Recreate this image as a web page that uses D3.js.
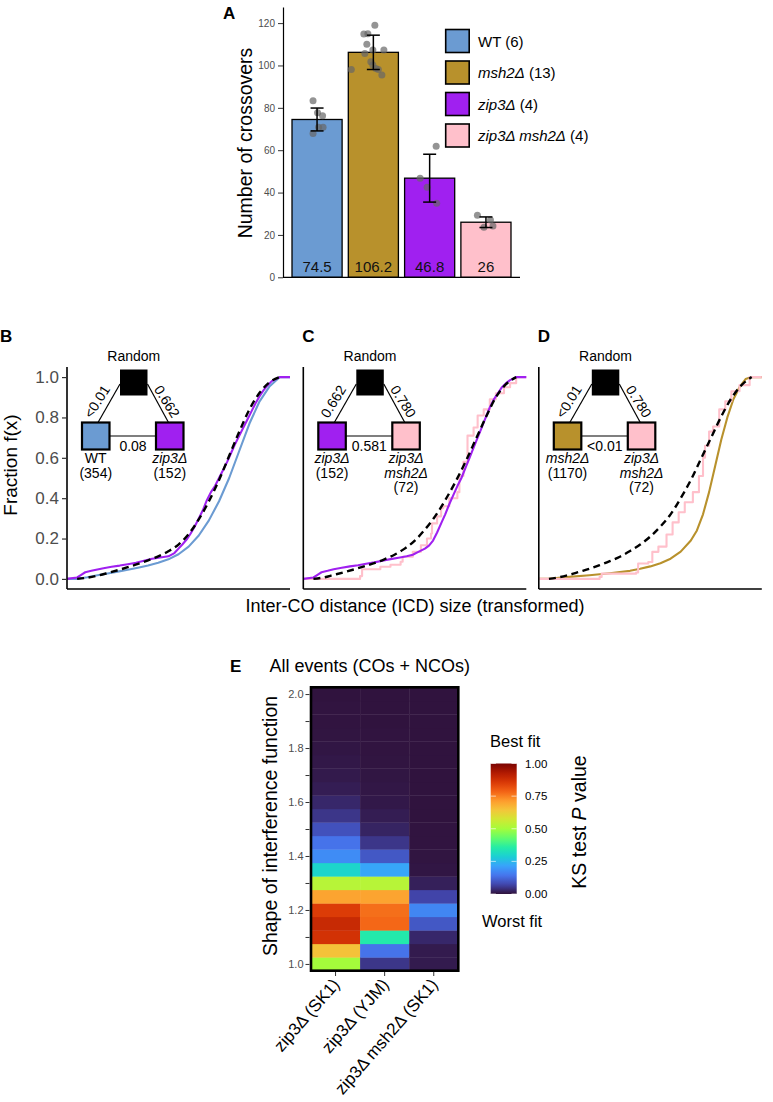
<!DOCTYPE html>
<html>
<head>
<meta charset="utf-8">
<script src="https://cdn.jsdelivr.net/npm/d3@7"></script>
<style>
  body { margin: 0; background: #fff; }
  svg { display: block; font-family: "Liberation Sans", Arial, Helvetica, sans-serif; }
</style>
</head>
<body>
<svg id="fig" width="773" height="1102"></svg>
<script>
// ---------- panel A data ----------
var strains = ["WT", "msh2", "zip3", "zip3msh2"];
var strainLabels = [[["WT", false]], [["msh2Δ", true]], [["zip3Δ", true]], [["zip3Δ msh2Δ", true]]];
var nMeioses = [6, 13, 4, 4];
var meanCO = [74.5, 106.2, 46.8, 26];
var sdCO = [5.4, 8.1, 11.3, 2.5];
var coWT = [83.4, 77.7, 76.3, 70.8, 70.8, 67.9];
var coMsh2 = [119, 115, 114.8, 110, 107.3, 107.3, 105.7, 101.7, 100.2, 98.6, 98.1, 98.1, 95.5];
var coZip3 = [61.9, 46.7, 42.5, 34.9];
var coDouble = [29.3, 27, 23.6, 24.2];
var yTicksA = [0, 20, 40, 60, 80, 100, 120];

// ---------- panels B-D data (ECDF of transformed ICD, x in 0..1) ----------
var cdfB_random = [[0,0],[0.05,0.006],[0.1,0.016],[0.15,0.029],[0.2,0.043],[0.25,0.058],[0.3,0.074],[0.35,0.092],[0.4,0.112],[0.45,0.137],[0.5,0.17],[0.55,0.222],[0.6,0.295],[0.65,0.385],[0.7,0.49],[0.75,0.61],[0.8,0.73],[0.85,0.84],[0.9,0.922],[0.95,0.975],[1,1]];
var cdfB_wt = [[0,0],[0.05,0.008],[0.1,0.018],[0.15,0.027],[0.2,0.036],[0.25,0.045],[0.3,0.055],[0.35,0.066],[0.4,0.08],[0.45,0.097],[0.5,0.122],[0.55,0.16],[0.6,0.215],[0.65,0.29],[0.7,0.385],[0.75,0.5],[0.8,0.635],[0.85,0.77],[0.9,0.88],[0.95,0.955],[1,1]];
var cdfB_zip3 = [[0,0.007],[0.02,0.02],[0.04,0.033],[0.07,0.04],[0.1,0.047],[0.13,0.053],[0.17,0.06],[0.21,0.066],[0.25,0.073],[0.29,0.08],[0.33,0.09],[0.37,0.1],[0.41,0.106],[0.45,0.112],[0.48,0.128],[0.5,0.15],[0.52,0.172],[0.54,0.195],[0.56,0.225],[0.58,0.26],[0.6,0.3],[0.62,0.34],[0.64,0.39],[0.66,0.43],[0.68,0.46],[0.7,0.5],[0.72,0.54],[0.74,0.58],[0.76,0.625],[0.78,0.67],[0.8,0.71],[0.82,0.75],[0.84,0.79],[0.86,0.83],[0.88,0.87],[0.9,0.905],[0.92,0.935],[0.94,0.96],[0.96,0.98],[0.98,0.99],[1,1]];

var cdfC_random = [[0,0],[0.05,0.007],[0.1,0.02],[0.15,0.033],[0.2,0.047],[0.25,0.062],[0.3,0.078],[0.35,0.097],[0.4,0.12],[0.45,0.15],[0.5,0.19],[0.55,0.245],[0.6,0.31],[0.65,0.39],[0.7,0.48],[0.75,0.58],[0.8,0.69],[0.85,0.8],[0.9,0.9],[0.95,0.965],[1,1]];
var cdfC_zip3 = [[0,0.007],[0.02,0.02],[0.04,0.033],[0.07,0.04],[0.1,0.048],[0.14,0.055],[0.18,0.062],[0.22,0.068],[0.26,0.075],[0.3,0.082],[0.34,0.09],[0.38,0.098],[0.42,0.105],[0.46,0.112],[0.49,0.12],[0.52,0.135],[0.55,0.15],[0.57,0.165],[0.59,0.19],[0.61,0.23],[0.63,0.275],[0.65,0.32],[0.67,0.37],[0.69,0.415],[0.71,0.46],[0.73,0.5],[0.75,0.55],[0.77,0.6],[0.79,0.65],[0.81,0.7],[0.83,0.75],[0.85,0.8],[0.87,0.85],[0.89,0.89],[0.91,0.92],[0.93,0.95],[0.95,0.97],[0.97,0.985],[1,1]];
var cdfC_double = [[0.23,0.014],[0.24,0.048],[0.33,0.06],[0.38,0.07],[0.43,0.085],[0.44,0.11],[0.49,0.134],[0.53,0.167],[0.56,0.2],[0.58,0.225],[0.585,0.275],[0.61,0.31],[0.63,0.35],[0.64,0.36],[0.67,0.4],[0.71,0.43],[0.72,0.51],[0.74,0.58],[0.76,0.71],[0.79,0.75],[0.81,0.81],[0.84,0.84],[0.87,0.89],[0.9,0.92],[0.94,0.95],[0.97,0.97],[1,1]];

var cdfD_random = [[0,0],[0.05,0.008],[0.1,0.02],[0.15,0.035],[0.2,0.05],[0.25,0.068],[0.3,0.088],[0.35,0.11],[0.4,0.138],[0.45,0.17],[0.5,0.21],[0.55,0.26],[0.6,0.32],[0.65,0.4],[0.7,0.49],[0.75,0.595],[0.8,0.7],[0.85,0.805],[0.9,0.895],[0.95,0.96],[1,1]];
var cdfD_msh2 = [[0,0],[0.1,0.01],[0.2,0.018],[0.3,0.028],[0.4,0.04],[0.45,0.05],[0.5,0.062],[0.55,0.078],[0.6,0.1],[0.65,0.135],[0.7,0.19],[0.73,0.24],[0.76,0.32],[0.79,0.43],[0.82,0.56],[0.85,0.69],[0.88,0.8],[0.91,0.89],[0.94,0.95],[0.97,0.99],[1,1]];
var cdfD_double = [[0.25,0.01],[0.26,0.026],[0.43,0.032],[0.44,0.076],[0.49,0.084],[0.51,0.134],[0.54,0.16],[0.58,0.22],[0.61,0.28],[0.64,0.33],[0.67,0.38],[0.71,0.43],[0.74,0.51],[0.76,0.6],[0.77,0.66],[0.79,0.73],[0.81,0.755],[0.84,0.84],[0.87,0.88],[0.9,0.93],[0.94,0.96],[0.99,1]];

var yTicksCdf = [0, 0.2, 0.4, 0.6, 0.8, 1.0];

// ---------- panel E data ----------
var genotypesE = ["zip3Δ (SK1)", "zip3Δ (YJM)", "zip3Δ msh2Δ (SK1)"];
var shapeValues = [1.00,1.05,1.10,1.15,1.20,1.25,1.30,1.35,1.40,1.45,1.50,1.55,1.60,1.65,1.70,1.75,1.80,1.85,1.90,1.95,2.00];
var ksZip3SK1 = [0.50,0.65,0.87,0.89,0.85,0.70,0.53,0.30,0.18,0.14,0.09,0.05,0.03,0.016,0.011,0.008,0.006,0.004,0.003,0.003,0.002];
var ksZip3YJM = [0.05,0.14,0.35,0.78,0.77,0.70,0.53,0.22,0.10,0.05,0.025,0.015,0.009,0.007,0.005,0.004,0.003,0.003,0.002,0.002,0.002];
var ksDoubleSK1 = [0.012,0.012,0.03,0.10,0.17,0.07,0.02,0.006,0.004,0.003,0.003,0.002,0.002,0.002,0.002,0.002,0.002,0.002,0.002,0.002,0.002];
var colorbarTicks = [0, 0.25, 0.5, 0.75, 1];

// ---------- styles ----------
var strainColors = ["#6b9bd2", "#b8912c", "#a020f0", "#ffc0cb"];
var tickGrey = "#4d4d4d";
var turboStops = ["#30123b","#4145ab","#4675ed","#39a2fc","#1bcfd4","#24eca6","#61fc6c","#a4fc3b","#d1e834","#f3c63a","#fe9b2d","#f36315","#d93806","#b11901","#7a0402"];

var svg = d3.select("#fig");
svg.append("rect").attr("width", 773).attr("height", 1102).attr("fill", "#fff");

function panelLetter(t, x, y) {
    svg.append("text").attr("x", x).attr("y", y)
        .attr("font-weight", "bold").attr("font-size", 17).text(t);
}

function richText(sel, parts) {
    parts.forEach(function (p) {
        sel.append("tspan").attr("font-style", p[1] ? "italic" : "normal").text(p[0]);
    });
    return sel;
}

// ===================== Panel A =====================
panelLetter("A", 223, 19);

var xA = d3.scaleBand().domain(strains).range([283, 520]).paddingInner(0.11).paddingOuter(0.16);
var yA = d3.scaleLinear().domain([0, 127.6]).range([277.3, 7]);
var gA = svg.append("g");

gA.selectAll("rect.bar").data(strains).enter().append("rect")
    .attr("class", "bar")
    .attr("x", function (d) { return xA(d); })
    .attr("width", xA.bandwidth())
    .attr("y", function (d, i) { return yA(meanCO[i]); })
    .attr("height", function (d, i) { return yA(0) - yA(meanCO[i]); })
    .attr("fill", function (d, i) { return strainColors[i]; })
    .attr("stroke", "#000").attr("stroke-width", 1.3);

// bar value labels
gA.selectAll("text.val").data(strains).enter().append("text")
    .attr("x", function (d) { return xA(d) + xA.bandwidth() / 2; })
    .attr("y", 272)
    .attr("text-anchor", "middle").attr("font-size", 15).attr("fill", "#111")
    .text(function (d, i) { return meanCO[i]; });

// jittered points
var dotSets = [coWT, coMsh2, coZip3, coDouble];
var dotJitter = [
    [-0.08, 0.01, 0.11, 0.03, 0.12, -0.08],
    [0.03, -0.11, -0.19, -0.13, -0.01, 0.21, -0.17, -0.05, -0.01, 0.05, -0.44, 0.1, 0.17],
    [0.13, -0.19, -0.05, 0.14],
    [-0.17, 0.09, -0.04, 0.14]
];
dotSets.forEach(function (vals, k) {
    var cx = xA(strains[k]) + xA.bandwidth() / 2;
    gA.selectAll(null).data(vals).enter().append("circle")
        .attr("cx", function (d, j) { return cx + dotJitter[k][j] * xA.bandwidth(); })
        .attr("cy", function (d) { return yA(d); })
        .attr("r", 3.5)
        .attr("fill", "#666").attr("fill-opacity", 0.7);
});

// error bars
strains.forEach(function (s, i) {
    var cx = xA(s) + xA.bandwidth() / 2;
    var lo = yA(meanCO[i] - sdCO[i]), hi = yA(meanCO[i] + sdCO[i]);
    gA.append("line").attr("x1", cx).attr("x2", cx).attr("y1", lo).attr("y2", hi)
        .attr("stroke", "#000").attr("stroke-width", 1.5);
    [lo, hi].forEach(function (y) {
        gA.append("line").attr("x1", cx - 6.5).attr("x2", cx + 6.5).attr("y1", y).attr("y2", y)
            .attr("stroke", "#000").attr("stroke-width", 1.5);
    });
});

// axes
var yAxisA = gA.append("g").attr("transform", "translate(283,0)")
    .call(d3.axisLeft(yA).tickValues(yTicksA).tickSize(5).tickSizeOuter(0).tickPadding(3));
yAxisA.select(".domain").attr("stroke", "#000").attr("stroke-width", 1.2);
yAxisA.selectAll(".tick line").attr("stroke", "#333");
yAxisA.selectAll(".tick text").attr("fill", tickGrey).attr("font-size", 10)
    .attr("font-family", "Liberation Sans, Arial, sans-serif");
gA.append("line").attr("x1", 283).attr("x2", 520).attr("y1", yA(0)).attr("y2", yA(0))
    .attr("stroke", "#000").attr("stroke-width", 1.2);

gA.append("text").attr("transform", "translate(252,143) rotate(-90)")
    .attr("text-anchor", "middle").attr("font-size", 19.5).text("Number of crossovers");

// legend
strains.forEach(function (s, i) {
    var top = 29.5 + i * 31.5;
    gA.append("rect").attr("x", 445.7).attr("y", top).attr("width", 23.5).attr("height", 23)
        .attr("fill", strainColors[i]).attr("stroke", "#000").attr("stroke-width", 1.6);
    var t = gA.append("text").attr("x", 478).attr("y", top + 17).attr("font-size", 15);
    richText(t, strainLabels[i].concat([[" (" + nMeioses[i] + ")", false]]));
});

// ===================== Panels B-D =====================
var yCdf = d3.scaleLinear().domain([-0.05, 1.05]).range([589, 367]);
var panels = [
    { letter: "B", x0: 67, random: cdfB_random,
      curves: [{ data: cdfB_wt, color: strainColors[0], step: false },
               { data: cdfB_zip3, color: strainColors[2], step: false }],
      left: { color: strainColors[0], lines: [[["WT", false]], [["(354)", false]]] },
      right: { color: strainColors[2], lines: [[["zip3Δ", true]], [["(152)", false]]] },
      p: ["<0.01", "0.662", "0.08"], yLabels: true },
    { letter: "C", x0: 303.3, random: cdfC_random,
      curves: [{ data: cdfC_double, color: strainColors[3], step: true },
               { data: cdfC_zip3, color: strainColors[2], step: false }],
      left: { color: strainColors[2], lines: [[["zip3Δ", true]], [["(152)", false]]] },
      right: { color: strainColors[3], lines: [[["zip3Δ", true]], [["msh2Δ", true]], [["(72)", false]]] },
      p: ["0.662", "0.780", "0.581"], yLabels: false },
    { letter: "D", x0: 538.8, random: cdfD_random,
      curves: [{ data: cdfD_msh2, color: strainColors[1], step: false },
               { data: cdfD_double, color: strainColors[3], step: true }],
      left: { color: strainColors[1], lines: [[["msh2Δ", true]], [["(1170)", false]]] },
      right: { color: strainColors[3], lines: [[["zip3Δ", true]], [["msh2Δ", true]], [["(72)", false]]] },
      p: ["<0.01", "0.780", "<0.01"], yLabels: false }
];

panels.forEach(function (P) {
    var g = svg.append("g");
    var x = d3.scaleLinear().domain([-0.05, 1.05]).range([P.x0, P.x0 + 223]);
    panelLetter(P.letter, P.letter === "B" ? 0 : P.x0 - 1, 342);

    function padded(data) {
        return [[-0.05, 0]].concat(data, [[1.05, 1]]);
    }
    P.curves.forEach(function (c) {
        var line = d3.line().x(function (d) { return x(d[0]); }).y(function (d) { return yCdf(d[1]); })
            .curve(c.step ? d3.curveStepAfter : d3.curveLinear);
        g.append("path").attr("d", line(padded(c.data)))
            .attr("fill", "none").attr("stroke", c.color).attr("stroke-width", 2.1)
            .attr("stroke-linejoin", "round");
    });
    var rline = d3.line().x(function (d) { return x(d[0]); }).y(function (d) { return yCdf(d[1]); })
        .curve(d3.curveMonotoneX);
    g.append("path").attr("d", rline(P.random))
        .attr("fill", "none").attr("stroke", "#000").attr("stroke-width", 2.4)
        .attr("stroke-dasharray", "7,4.5");

    // axes
    g.append("line").attr("x1", P.x0).attr("x2", P.x0).attr("y1", 367).attr("y2", 589)
        .attr("stroke", "#000").attr("stroke-width", 1.6);
    g.append("line").attr("x1", P.x0).attr("x2", P.x0 + 223).attr("y1", 589).attr("y2", 589)
        .attr("stroke", "#000").attr("stroke-width", 1.6);
    if (P.yLabels) {
        var ya = g.append("g").attr("transform", "translate(" + P.x0 + ",0)")
            .call(d3.axisLeft(yCdf).tickValues(yTicksCdf).tickFormat(d3.format(".1f"))
                .tickSize(5).tickSizeOuter(0).tickPadding(3));
        ya.select(".domain").remove();
        ya.selectAll(".tick line").attr("stroke", "#333").attr("stroke-width", 1.2);
        ya.selectAll(".tick text").attr("fill", tickGrey).attr("font-size", 17)
            .attr("font-family", "Liberation Sans, Arial, sans-serif");
    }

    // inset comparison triangle
    var sq = 27.5, bx = P.x0 + 53, lx = P.x0 + 15, rx = P.x0 + 89, sideTop = 422.5;
    g.append("text").attr("x", bx + sq / 2).attr("y", 360.5).attr("text-anchor", "middle")
        .attr("font-size", 14).text("Random");
    g.append("line").attr("x1", bx).attr("y1", 384).attr("x2", lx + 16).attr("y2", sideTop)
        .attr("stroke", "#000").attr("stroke-width", 1.2);
    g.append("line").attr("x1", bx + sq).attr("y1", 384).attr("x2", rx + 12.5).attr("y2", sideTop)
        .attr("stroke", "#000").attr("stroke-width", 1.2);
    g.append("line").attr("x1", lx + sq).attr("y1", 436).attr("x2", rx).attr("y2", 436)
        .attr("stroke", "#000").attr("stroke-width", 1.2);
    g.append("rect").attr("x", bx).attr("y", 369.5).attr("width", sq).attr("height", 26).attr("fill", "#000");
    [[lx, P.left], [rx, P.right]].forEach(function (s) {
        g.append("rect").attr("x", s[0]).attr("y", sideTop).attr("width", sq).attr("height", 27)
            .attr("fill", s[1].color).attr("stroke", "#000").attr("stroke-width", 2.2);
        s[1].lines.forEach(function (ln, k) {
            var t = g.append("text").attr("x", s[0] + sq / 2).attr("y", 463 + k * 14.5)
                .attr("text-anchor", "middle").attr("font-size", 14);
            richText(t, ln);
        });
    });
    g.append("text").attr("transform", "translate(" + (P.x0 + 30) + ",401.5) rotate(-58)")
        .attr("text-anchor", "middle").attr("dy", "0.35em").attr("font-size", 14).text(P.p[0]);
    g.append("text").attr("transform", "translate(" + (P.x0 + 100) + ",401.5) rotate(58)")
        .attr("text-anchor", "middle").attr("dy", "0.35em").attr("font-size", 14).text(P.p[1]);
    g.append("text").attr("x", P.x0 + 66).attr("y", 451).attr("text-anchor", "middle")
        .attr("font-size", 14).text(P.p[2]);
});

svg.append("text").attr("transform", "translate(17,465) rotate(-90)")
    .attr("text-anchor", "middle").attr("font-size", 19).text("Fraction f(x)");
svg.append("text").attr("x", 415).attr("y", 612).attr("text-anchor", "middle")
    .attr("font-size", 18).text("Inter-CO distance (ICD) size (transformed)");

// ===================== Panel E =====================
panelLetter("E", 230, 672);
svg.append("text").attr("x", 269.5).attr("y", 671.5).attr("font-size", 18).text("All events (COs + NCOs)");

var turbo = d3.piecewise(d3.interpolateRgb, turboStops);
var xE = d3.scaleBand().domain(genotypesE).range([311, 458.3]);
var yE = d3.scaleLinear().domain([0.975, 2.025]).range([970.7, 687.3]);
var gE = svg.append("g");
var ksColumns = [ksZip3SK1, ksZip3YJM, ksDoubleSK1];

ksColumns.forEach(function (col, c) {
    gE.selectAll(null).data(shapeValues).enter().append("rect")
        .attr("x", xE(genotypesE[c]))
        .attr("width", xE.bandwidth() + 0.4)
        .attr("y", function (d) { return yE(d + 0.025); })
        .attr("height", function (d) { return yE(d - 0.025) - yE(d + 0.025) + 0.4; })
        .attr("fill", function (d, i) { return turbo(col[i]); });
});
gE.append("rect").attr("x", 311).attr("y", 687.3).attr("width", 147.3).attr("height", 283.4)
    .attr("fill", "none").attr("stroke", "#000").attr("stroke-width", 2.6);

var yAxisE = gE.append("g").attr("transform", "translate(309.5,0)")
    .call(d3.axisLeft(yE).tickValues([1.0,1.1,1.2,1.3,1.4,1.5,1.6,1.7,1.8,1.9,2.0])
        .tickFormat(function (d) { return Math.round(d * 10) % 2 === 0 ? d3.format(".1f")(d) : ""; })
        .tickSize(4).tickSizeOuter(0).tickPadding(2));
yAxisE.select(".domain").remove();
yAxisE.selectAll(".tick line").attr("stroke", "#333");
yAxisE.selectAll(".tick text").attr("fill", tickGrey).attr("font-size", 11)
    .attr("font-family", "Liberation Sans, Arial, sans-serif");

var xAxisE = gE.append("g").attr("transform", "translate(0,972)")
    .call(d3.axisBottom(xE).tickSize(4).tickSizeOuter(0).tickFormat(""));
xAxisE.select(".domain").remove();
xAxisE.selectAll(".tick line").attr("stroke", "#333");
genotypesE.forEach(function (gname) {
    var cx = xE(gname) + xE.bandwidth() / 2;
    gE.append("text").attr("transform", "translate(" + (cx + 5) + ",985) rotate(-49)")
        .attr("text-anchor", "end").attr("font-size", 17).text(gname);
});

svg.append("text").attr("transform", "translate(277,826) rotate(-90)")
    .attr("text-anchor", "middle").attr("font-size", 19.5).text("Shape of interference function");

// colorbar
var defs = svg.append("defs");
var grad = defs.append("linearGradient").attr("id", "turboGrad")
    .attr("x1", 0).attr("y1", 1).attr("x2", 0).attr("y2", 0);
d3.range(0, 1.0001, 0.02).forEach(function (t) {
    grad.append("stop").attr("offset", t).attr("stop-color", turbo(t));
});
var yBar = d3.scaleLinear().domain([0, 1]).range([894, 763.5]);
svg.append("rect").attr("x", 490.7).attr("y", 763.5).attr("width", 26).attr("height", 130.5)
    .attr("fill", "url(#turboGrad)");
colorbarTicks.forEach(function (t) {
    [[490.7, 495.9], [511.5, 516.7]].forEach(function (xs) {
        svg.append("line").attr("x1", xs[0]).attr("x2", xs[1]).attr("y1", yBar(t)).attr("y2", yBar(t))
            .attr("stroke", "#fff").attr("stroke-opacity", 0.8).attr("stroke-width", 0.8);
    });
    svg.append("text").attr("x", 525).attr("y", yBar(t)).attr("dy", "0.35em")
        .attr("font-size", 11.5).text(d3.format(".2f")(t));
});
svg.append("text").attr("x", 490).attr("y", 747).attr("font-size", 16.5).text("Best fit");
svg.append("text").attr("x", 482).attr("y", 927).attr("font-size", 16.5).text("Worst fit");
richText(svg.append("text").attr("transform", "translate(586,822) rotate(-90)")
    .attr("text-anchor", "middle").attr("font-size", 19.5),
    [["KS test ", false], ["P", true], [" value", false]]);
</script>
</body>
</html>
